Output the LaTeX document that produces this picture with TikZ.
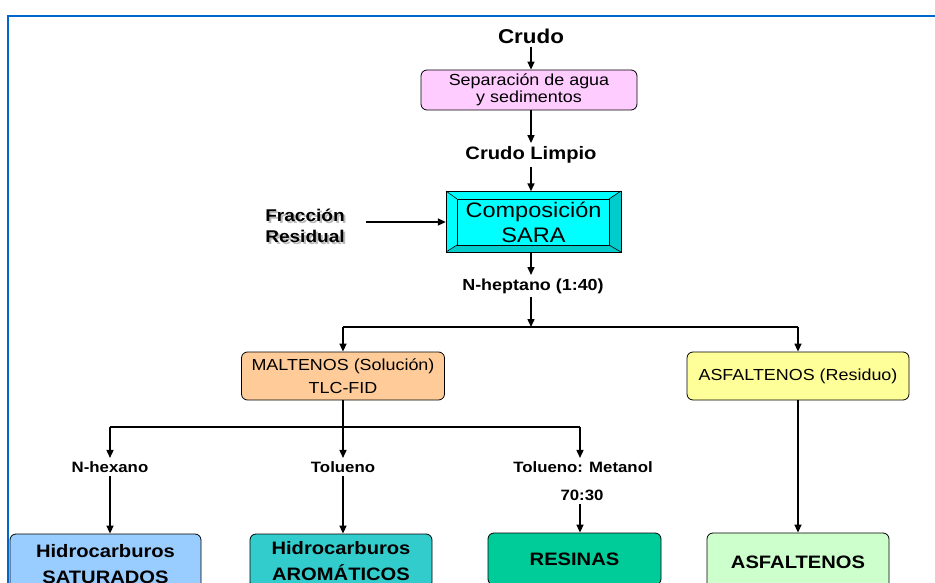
\documentclass[tikz,border=0pt]{standalone}
\usepackage{fontspec}
\setmainfont{Liberation Sans}[FakeStretch=1.12]
\usetikzlibrary{arrows.meta}
\usetikzlibrary{calc}

\definecolor{frameblue}{RGB}{0,102,204}
\definecolor{sepPink}{RGB}{255,204,255}
\definecolor{saraCyan}{RGB}{0,255,255}
\definecolor{saraDark}{RGB}{0,204,204}
\definecolor{maltOrange}{RGB}{255,204,153}
\definecolor{asfYellow}{RGB}{255,255,153}
\definecolor{satBlue}{RGB}{153,204,255}
\definecolor{aroTeal}{RGB}{51,204,204}
\definecolor{resGreen}{RGB}{0,204,153}
\definecolor{asfGreen}{RGB}{204,255,204}

\tikzset{
  box/.style={draw, rounded corners=6pt, line width=0.8pt, align=center, inner sep=0pt},
  arr/.style={-{Triangle[length=8pt,width=7pt]}, line width=1.5pt},
  ln/.style={line width=1.5pt},
  solv/.style={font=\fontsize{15}{17}\selectfont\bfseries},
}

\begin{document}
\begin{tikzpicture}[x=1pt, y=-1pt]
        \useasboundingbox (0,0) rectangle (935,583);
        \draw[frameblue, line width=2.5pt] (8,590) -- (8,16) -- (940,16);

        % top chain
        \node[font=\fontsize{20}{22}\selectfont\bfseries] (crudo) at (531,36) {Crudo};
        \node[box, fill=sepPink, minimum width=216pt, minimum height=40pt,
              font=\fontsize{16}{17}\selectfont] (sep) at (529,90) {Separación de agua\\y sedimentos};
        \node[font=\fontsize{18}{20}\selectfont\bfseries] (limpio) at (531,155) {Crudo Limpio};

        % SARA button
        \coordinate (S1) at (446,191);
        \coordinate (S2) at (621,252);
        \coordinate (I1) at (457,199);
        \coordinate (I2) at (609,245);
        \fill[saraCyan] (S1) rectangle (S2);
        \fill[saraDark] (S2) -- (I2) -- (I2 |- I1) -- (S2 |- S1) -- cycle;
        \fill[saraDark] (S2) -- (I2) -- (I1 |- I2) -- (S1 |- S2) -- cycle;
        \draw[line width=0.6pt] (S1) -- (I1) (S2) -- (I2) (S1 |- S2) -- (I1 |- I2) (S2 |- S1) -- (I2 |- I1);
        \draw[line width=0.6pt] (I1) rectangle (I2);
        \draw[line width=0.8pt] (S1) rectangle (S2);
        \node[font=\fontsize{21}{25}\selectfont, align=center, minimum width=175pt, minimum height=61pt,
              inner sep=0pt] (sara) at (533.5,222) {Composición\\SARA};

        \node[font=\fontsize{17}{21}\selectfont\bfseries, align=left, text=gray!55] at (307,228) {Fracción\\Residual};
        \node[font=\fontsize{17}{21}\selectfont\bfseries, align=left] (frac) at (305,226) {Fracción\\Residual};

        \node[font=\fontsize{16}{18}\selectfont\bfseries] (hept) at (533,286) {N-heptano (1:40)};
        \coordinate (split1) at (531,327);

        % second level
        \node[box, fill=maltOrange, minimum width=203pt, minimum height=48pt,
              font=\fontsize{16}{23}\selectfont] (malt) at (343,376) {MALTENOS (Solución)\\TLC-FID};
        \node[box, fill=asfYellow, minimum width=222pt, minimum height=48pt,
              font=\fontsize{16}{18}\selectfont] (asfr) at (798,376) {ASFALTENOS (Residuo)};
        \coordinate (split2) at (343,427);

        % solvents
        \node[solv] (hex) at (110,467) {N-hexano};
        \node[solv] (tol) at (343,467) {Tolueno};
        \node[solv] (tolm) at (583,467) {Tolueno: Metanol};
        \node[solv] (mix) at (582,495) {70:30};

        % fractions
        \node[box, fill=satBlue, minimum width=191pt, minimum height=60pt,
              font=\fontsize{18}{26}\selectfont\bfseries] (sat) at (105.5,564) {Hidrocarburos\\SATURADOS};
        \node[box, fill=aroTeal, minimum width=182pt, minimum height=54pt,
              font=\fontsize{18}{26}\selectfont\bfseries] (aro) at (341,561) {Hidrocarburos\\AROMÁTICOS};
        \node[box, fill=resGreen, minimum width=173pt, minimum height=52pt,
              font=\fontsize{18}{20}\selectfont\bfseries] (res) at (574.5,559) {RESINAS};
        \node[box, fill=asfGreen, minimum width=182pt, minimum height=58pt,
              font=\fontsize{18}{20}\selectfont\bfseries] (asf) at (798,562) {ASFALTENOS};

        % connectors
        \draw[arr] (crudo.south) -- (crudo.south |- sep.north);
        \draw[arr] (crudo.south |- sep.south) -- (limpio.north);
        \draw[arr] (limpio.south) -- (limpio.south |- sara.north);
        \draw[arr] ($(frac.east)+(18,-4)$) -- (sara.west |- {$(frac.east)+(0,-4)$});
        \draw[arr] (split1 |- sara.south) -- (split1 |- hept.north);
        \draw[arr] (split1 |- hept.south) -- (split1);
        \draw[ln] (malt.north |- split1) -- (asfr.north |- split1);
        \draw[arr] (malt.north |- split1) -- (malt.north);
        \draw[arr] (asfr.north |- split1) -- (asfr.north);

        \draw[ln] (malt.south) -- (split2);
        \draw[ln] (hex.north |- split2) -- (580,427);
        \draw[arr] (hex.north |- split2) -- (hex.north);
        \draw[arr] (split2) -- (tol.north);
        \draw[arr] (580,427) -- (580,427 |- tolm.north);

        \draw[arr] (hex.south) -- (hex.south |- sat.north);
        \draw[arr] (tol.south) -- (tol.south |- aro.north);
        \draw[arr] (580,427 |- mix.south) -- (580,427 |- res.north);
        \draw[arr] (asfr.south) -- (asf.north);
\end{tikzpicture}
\end{document}
